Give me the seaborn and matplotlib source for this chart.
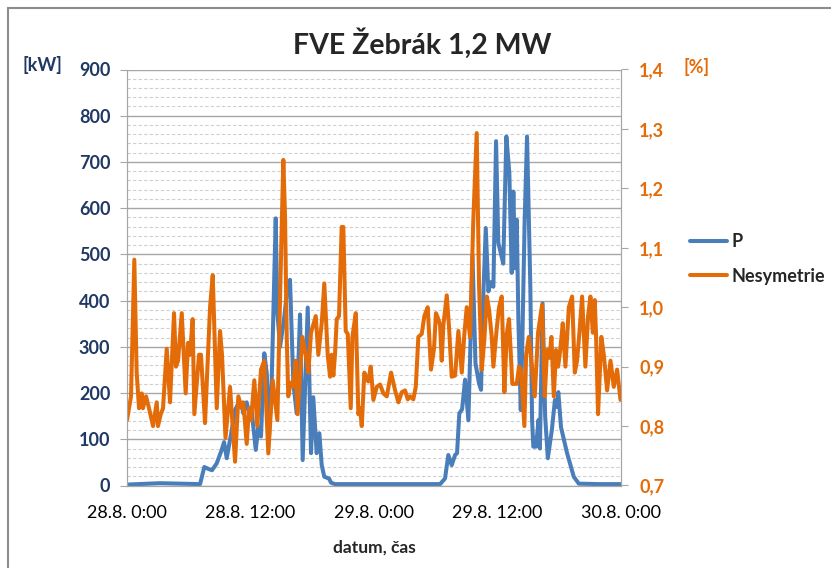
import pandas as pd
import matplotlib
matplotlib.use('Agg')
import matplotlib.pyplot as plt
import matplotlib.dates as mdates
from matplotlib.ticker import MultipleLocator, FuncFormatter
from matplotlib.patches import Rectangle
import seaborn as sns

START = '2013-08-28 00:00'

# P [kW] - hours from start
p_hours = [0, 3.2, 7.1, 7.51, 7.90, 8.26, 8.72, 9.20, 9.43, 9.69, 10.18, 10.50, 10.82,
           11.15, 11.30, 11.63, 11.95, 12.12, 12.51, 12.76, 13.02, 13.34, 13.58, 13.80,
           14.06, 14.45, 14.61, 14.87, 15.26, 15.55, 15.84, 16.16, 16.49, 16.81, 17.07,
           17.56, 17.88, 18.10, 18.43, 18.69, 18.92, 19.17, 19.63, 19.83, 20.21, 30.42,
           30.90, 31.22, 31.55, 31.88, 32.07, 32.29, 32.56, 32.85, 33.17, 33.33, 33.57,
           33.86, 34.21, 34.40, 34.63, 34.86, 35.11, 35.37, 35.60, 35.86, 36.08, 36.35,
           36.56, 36.86, 37.15, 37.38, 37.54, 37.71, 37.87, 38.03, 38.26, 38.39, 38.64,
           38.87, 39.19, 39.36, 39.48, 39.74, 39.99, 40.12, 40.38, 40.63, 40.89, 41.28,
           41.58, 41.75, 41.91, 42.17, 42.76, 43.41, 43.90, 45.97, 48.0]
p_kw = [2, 5, 3, 40, 36, 33, 48, 77, 94, 59, 120, 163, 178,
        175, 156, 180, 149, 160, 77, 127, 106, 286, 243, 106,
        228, 578, 374, 300, 360, 420, 445, 222, 156, 370, 55,
        385, 70, 191, 70, 113, 44, 19, 15, 6, 3, 3,
        15, 66, 44, 66, 70, 156, 165, 229, 141, 271, 497,
        264, 220, 207, 417, 557, 420, 440, 430, 745, 525, 500,
        480, 755, 676, 460, 636, 470, 575, 358, 163, 286, 575,
        755, 431, 142, 84, 84, 142, 80, 394, 150, 59, 120,
        185, 170, 202, 126, 70, 19, 4, 3, 3]

# Nesymetrie [%]
nes_hours = [0.0, 0.39, 0.71, 0.94, 1.17, 1.43, 1.55, 1.85, 2.14, 2.53, 2.89, 3.01, 3.28,
             3.50, 3.86, 4.18, 4.57, 4.76, 4.96, 5.32, 5.70, 5.93, 6.12, 6.38, 6.54,
             7.00, 7.19, 7.58, 8.07, 8.33, 8.72, 9.04, 9.23, 9.57, 10.01, 10.50, 10.82,
             11.15, 11.30, 11.63, 11.86, 12.05, 12.37, 12.66, 13.02, 13.34, 13.73, 14.16,
             14.61, 14.97, 15.19, 15.36, 15.52, 15.67, 15.90, 16.15, 16.39, 16.58, 17.04,
             17.37, 17.62, 17.88, 18.34, 18.59, 18.92, 19.17, 19.50, 19.73, 19.89, 20.05,
             20.21, 20.38, 20.60, 20.86, 21.02, 21.25, 21.45, 21.74, 21.90, 22.23, 22.48,
             22.64, 22.81, 23.06, 23.29, 23.45, 23.68, 23.94, 24.27, 24.59, 24.91, 25.24,
             25.66, 26.05, 26.37, 26.70, 27.02, 27.28, 27.50, 27.82, 28.06, 28.31, 28.64,
             28.89, 29.22, 29.54, 29.83, 30.02, 30.25, 30.42, 30.58, 30.74, 31.07, 31.29,
             31.55, 31.88, 32.20, 32.53, 32.78, 33.01, 33.33, 33.65, 33.98, 34.21, 34.47,
             34.72, 34.96, 35.18, 35.44, 35.60, 35.93, 36.15, 36.41, 36.67, 36.90, 37.12,
             37.44, 37.87, 38.09, 38.29, 38.61, 38.78, 39.04, 39.29, 39.62, 39.94, 40.33,
             40.59, 40.82, 41.04, 41.24, 41.47, 41.69, 41.89, 42.11, 42.34, 42.60, 42.93,
             43.25, 43.51, 43.73, 43.96, 44.22, 44.54, 44.80, 45.03, 45.26, 45.45, 45.58,
             45.77, 46.09, 46.33, 46.65, 46.98, 47.30, 47.62, 47.95]
nes_pct = [0.81, 0.85, 1.08, 0.89, 0.83, 0.855, 0.83, 0.85, 0.83, 0.80, 0.84, 0.80, 0.82,
           0.83, 0.93, 0.84, 0.99, 0.90, 0.91, 0.99, 0.855, 0.94, 0.92, 0.98, 0.82,
           0.92, 0.92, 0.805, 1.0, 1.054, 0.83, 0.96, 0.92, 0.78, 0.866, 0.74, 0.85,
           0.83, 0.84, 0.77, 0.83, 0.81, 0.877, 0.80, 0.895, 0.91, 0.754, 0.877,
           0.81, 1.09, 1.248, 1.15, 0.95, 0.85, 0.873, 0.866, 0.91, 0.82, 0.95,
           0.92, 0.89, 0.957, 0.985, 0.92, 0.973, 1.04, 0.92, 0.883, 0.92, 0.885,
           0.92, 0.98, 0.985, 1.135, 1.135, 0.96, 0.955, 0.83, 0.95, 0.99, 0.82,
           0.83, 0.80, 0.89, 0.88, 0.875, 0.90, 0.844, 0.866, 0.87, 0.855, 0.85,
           0.89, 0.86, 0.84, 0.857, 0.86, 0.845, 0.85, 0.845, 0.866, 0.95, 0.955,
           0.985, 1.0, 0.895, 0.93, 0.99, 0.98, 0.97, 0.91, 0.97, 1.02, 0.967,
           0.883, 0.885, 0.96, 0.89, 0.955, 1.0, 0.95, 1.147, 1.293, 1.035, 0.895,
           0.945, 1.018, 0.996, 0.95, 0.90, 0.965, 1.0, 1.018, 0.857, 0.955, 0.98,
           0.871, 0.871, 0.90, 0.895, 0.80, 0.92, 0.95, 0.91, 0.85, 0.957, 1.004,
           0.85, 0.928, 0.915, 0.95, 0.85, 0.928, 0.90, 0.93, 0.973, 0.90, 1.0,
           1.018, 0.89, 0.91, 0.957, 1.018, 0.90, 0.985, 1.018, 0.957, 1.012, 0.95,
           0.82, 0.95, 0.92, 0.86, 0.91, 0.866, 0.895, 0.844]

BLUE = '#4A7EBB'
ORANGE = '#E36C09'
NAVY = '#1F3864'

sns.set_style('white')
plt.rcParams['font.family'] = ['Lato', 'DejaVu Sans']

start = pd.Timestamp(START)
df_p = pd.DataFrame({'cas': start + pd.to_timedelta(p_hours, unit='h'), 'P': p_kw})
df_n = pd.DataFrame({'cas': start + pd.to_timedelta(nes_hours, unit='h'), 'Nesymetrie': nes_pct})

fig = plt.figure(figsize=(8.31, 5.68), dpi=100)
ax = fig.add_axes([127 / 831, 1 - 485.5 / 568, 494 / 831, 416 / 568])
ax2 = ax.twinx()

sns.lineplot(data=df_p, x='cas', y='P', ax=ax, color=BLUE, lw=2.9, label='P',
             solid_joinstyle='round', solid_capstyle='round')
sns.lineplot(data=df_n, x='cas', y='Nesymetrie', ax=ax2, color=ORANGE, lw=2.9,
             label='Nesymetrie', solid_joinstyle='round', solid_capstyle='round')

ax.set_xlim(start, start + pd.Timedelta(hours=48))
ax.set_ylim(0, 900)
ax2.set_ylim(0.7, 1.4)

ax.xaxis.set_major_locator(mdates.HourLocator(byhour=[0, 12]))
ax.xaxis.set_major_formatter(mdates.DateFormatter('%-d.%-m. %-H:%M'))
ax.yaxis.set_major_locator(MultipleLocator(100))
ax.yaxis.set_minor_locator(MultipleLocator(20))
ax2.yaxis.set_major_locator(MultipleLocator(0.1))
ax2.yaxis.set_major_formatter(FuncFormatter(lambda v, _: f'{v:.1f}'.replace('.', ',')))

ax.grid(which='major', axis='y', color='#A6A6A6', lw=1.0)
ax.grid(which='minor', axis='y', color='#CFCFCF', lw=0.8, linestyle=(0, (3, 2)))
ax.set_axisbelow(True)

for a in (ax, ax2):
    for s in a.spines.values():
        s.set_color('#A6A6A6')
    a.spines['top'].set_visible(False)
    a.set_xlabel('')
    a.set_ylabel('')

ax.tick_params(axis='y', which='major', length=5, color='#A6A6A6', pad=7,
               labelsize=13, labelcolor=NAVY)
ax.tick_params(axis='y', which='minor', length=0)
ax.tick_params(axis='x', length=5, color='#A6A6A6', pad=9, labelsize=13, labelcolor='black')
ax2.tick_params(axis='y', length=5, color='#A6A6A6', pad=8, labelsize=13, labelcolor=ORANGE)
for lbl in ax.get_yticklabels():
    lbl.set_fontweight('bold')
for lbl in ax2.get_yticklabels():
    lbl.set_fontweight('bold')

# legend on the right side
h1, l1 = ax.get_legend_handles_labels()
h2, l2 = ax2.get_legend_handles_labels()
ax.get_legend().remove()
ax2.get_legend().remove()
fig.legend(h1 + h2, l1 + l2, loc='upper left', bbox_to_anchor=(690 / 831, 1 - 233 / 568),
           frameon=False, handlelength=2.05, handletextpad=0.25, labelspacing=0.97,
           borderpad=0, borderaxespad=0, prop={'weight': 'bold', 'size': 13})

fig.text(422 / 831, 1 - 44 / 568, 'FVE Žebrák 1,2 MW', ha='center', va='center',
         fontsize=20.5, fontweight='bold')
fig.text(42 / 831, 1 - 65 / 568, '[kW]', ha='center', va='center', fontsize=13,
         fontweight='bold', color=NAVY)
fig.text(697 / 831, 1 - 67 / 568, '[%]', ha='center', va='center', fontsize=13,
         fontweight='bold', color=ORANGE)
fig.text(374 / 831, 1 - 548 / 568, 'datum, čas', ha='center', va='center', fontsize=12.5,
         fontweight='bold')

# outer chart border (cut off at right and bottom)
fig.patches.append(Rectangle((7.5 / 831, -0.5), 2, 0.5 + 1 - 7.5 / 568, transform=fig.transFigure,
                             fill=False, edgecolor='#8C8C8C', lw=1.5, clip_on=False))

fig.savefig('out.png', dpi=100)
